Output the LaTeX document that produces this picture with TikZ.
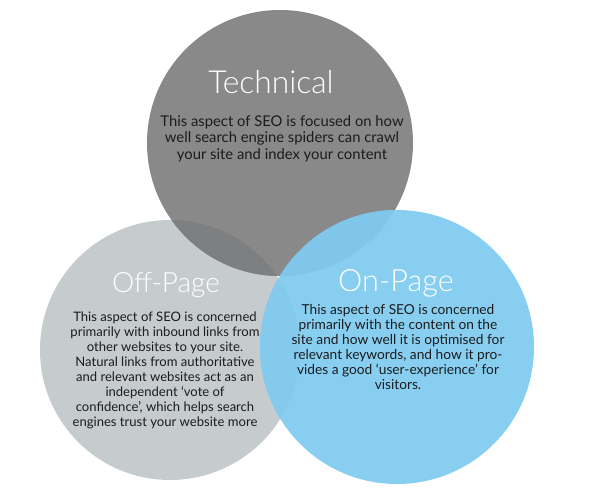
\documentclass[tikz,border=0pt]{standalone}
\usepackage{fontspec}
\setmainfont{Lato}
\newfontfamily\titlefont{Lato Light}
\definecolor{offc}{HTML}{C6CBCE}
\definecolor{techc}{HTML}{898989}
\definecolor{techoff}{HTML}{7E7F80}
\definecolor{onc}{HTML}{87CEF1}
\definecolor{ontech}{HTML}{7FC6EA}
\definecolor{onoff}{HTML}{83CAED}
\definecolor{bodyc}{HTML}{1C1C1C}
\tikzset{
  titletext/.style={text=white, inner sep=0pt},
  bodytext/.style={text=bodyc, align=center, inner sep=0pt}
}
\begin{document}
\begin{tikzpicture}[x=0.75pt,y=-0.75pt]
\useasboundingbox (0,0) rectangle (600,502);
\fill[white] (0,0) rectangle (600,502);
% circles
\fill[offc] (170,350) circle (130);
\fill[techc] (280,143) circle (133);
\begin{scope}
  \clip (170,350) circle (130);
  \fill[techoff] (280,143) circle (133);
\end{scope}
\fill[onc] (397,347) circle (137);
\begin{scope}
  \clip (397,347) circle (137);
  \fill[onoff] (170,350) circle (130);
  \fill[ontech] (280,143) circle (133);
\end{scope}
% texts
\node[titletext, font=\titlefont\fontsize{23.8}{26}\selectfont] (techtitle) at (271,82) {Technical};
\node[bodytext, font=\fontsize{11.1}{12.5}\selectfont] (techbody) at (282,138.5) {This aspect of SEO is focused on how\\well search engine spiders can crawl\\your site and index your content};
\node[titletext, font=\titlefont\fontsize{21}{23}\selectfont] (offtitle) at (166,285) {Off-Page};
\node[bodytext, font=\fontsize{9.8}{11.25}\selectfont] (offbody) at (165,370.5) {This aspect of SEO is concerned\\primarily with inbound links from\\other websites to your site.\\Natural links from authoritative\\and relevant websites act as an\\independent `vote of\\confidence', which helps search\\engines trust your website more};
\node[titletext, font=\titlefont\fontsize{23}{25}\selectfont] (ontitle) at (396,283) {On-Page};
\node[bodytext, font=\fontsize{10.3}{11.25}\selectfont] (onbody) at (398,346.5) {This aspect of SEO is concerned\\primarily with the content on the\\site and how well it is optimised for\\relevant keywords, and how it pro-\\vides a good `user-experience' for\\visitors.};
\end{tikzpicture}
\end{document}
